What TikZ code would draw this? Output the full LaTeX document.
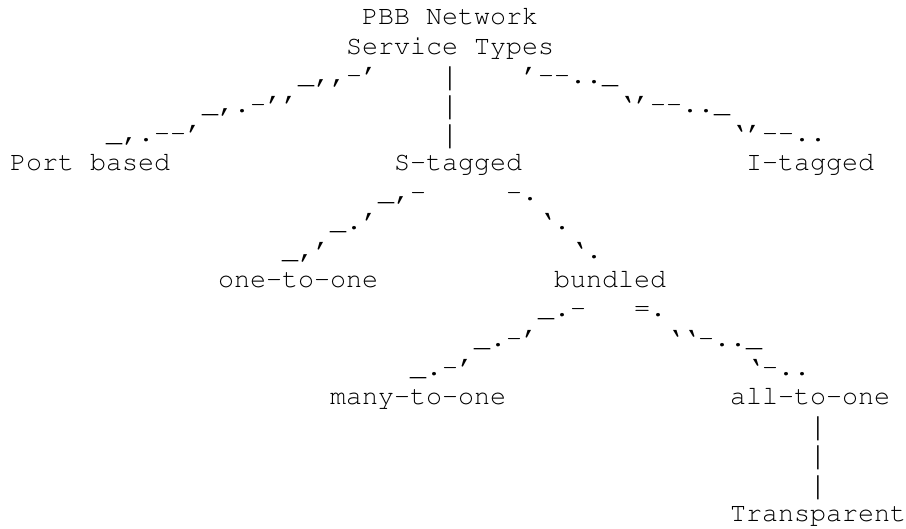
\documentclass[tikz,border=0pt]{standalone}
\usepackage[T1]{fontenc}
\usepackage{graphicx}
\usepackage{fontspec}
\newfontfamily\barfont{Liberation Mono}
\newcommand\vbar{\makebox[16pt]{\raisebox{-2pt}{\scalebox{0.7}[0.97]{\barfont|}}}}
\begin{document}
\begin{tikzpicture}[x=1pt,y=1pt,
  txt/.style={anchor=base west, inner sep=0pt, outer sep=0pt, text=black,
    font=\fontencoding{T1}\fontfamily{pcr}\fontseries{m}\fontshape{n}\fontsize{26.67}{29}\selectfont}]
\useasboundingbox (0,0) rectangle (906,-529);
\newcommand\cx[1]{10+16*#1}
\newcommand\ry[1]{-25-29.2*#1}
% labels
\node[txt] (root1) at ({\cx{22}},{\ry{0}}) {PBB Network};
\node[txt] (root2) at ({\cx{21}},{\ry{1}}) {Service Types};
\node[txt] (port) at ({\cx{0}},{\ry{5}}) {Port based};
\node[txt] (stag) at ({\cx{24}},{\ry{5}}) {S-tagged};
\node[txt] (itag) at ({\cx{46}},{\ry{5}}) {I-tagged};
\node[txt] (one) at ({\cx{13}},{\ry{9}}) {one-to-one};
\node[txt] (bund) at ({\cx{34}},{\ry{9}}) {bundled};
\node[txt] (many) at ({\cx{20}},{\ry{13}}) {many-to-one};
\node[txt] (all) at ({\cx{45}},{\ry{13}}) {all-to-one};
\node[txt] (trans) at ({\cx{45}},{\ry{17}}) {Transparent};
% ascii connectors: root to port based
\node[txt] (rp1) at ({\cx{18}},{\ry{2}}) {\_,{},-'};
\node[txt] (rp2) at ({\cx{12}},{\ry{3}}) {\_,.-'{}'};
\node[txt] (rp3) at ({\cx{6}},{\ry{4}}) {\_,.-{}-'};
% root to S-tagged
\node[txt] (rs1) at ({\cx{27}},{\ry{2}}) {\vbar};
\node[txt] (rs2) at ({\cx{27}},{\ry{3}}) {\vbar};
\node[txt] (rs3) at ({\cx{27}},{\ry{4}}) {\vbar};
% root to I-tagged
\node[txt] (ri1) at ({\cx{32}},{\ry{2}}) {'-{}-.{}.\_};
\node[txt] (ri2) at ({\cx{38}},{\ry{3}}) {`{}'-{}-.{}.\_};
\node[txt] (ri3) at ({\cx{45}},{\ry{4}}) {`{}'-{}-.{}.};
% S-tagged to one-to-one
\node[txt] (so1) at ({\cx{23}},{\ry{6}}) {\_,-};
\node[txt] (so2) at ({\cx{20}},{\ry{7}}) {\_.'};
\node[txt] (so3) at ({\cx{17}},{\ry{8}}) {\_,'};
% S-tagged to bundled
\node[txt] (sb1) at ({\cx{31}},{\ry{6}}) {-.};
\node[txt] (sb2) at ({\cx{33}},{\ry{7}}) {`.};
\node[txt] (sb3) at ({\cx{35}},{\ry{8}}) {`.};
% bundled to many-to-one
\node[txt] (bm1) at ({\cx{33}},{\ry{10}}) {\_.-};
\node[txt] (bm2) at ({\cx{29}},{\ry{11}}) {\_.-'};
\node[txt] (bm3) at ({\cx{25}},{\ry{12}}) {\_.-'};
% bundled to all-to-one
\node[txt] (ba1) at ({\cx{39}},{\ry{10}}) {=.};
\node[txt] (ba2) at ({\cx{41}},{\ry{11}}) {`{}`-.{}.\_};
\node[txt] (ba3) at ({\cx{46}},{\ry{12}}) {`-.{}.};
% all-to-one to Transparent
\node[txt] (at1) at ({\cx{50}},{\ry{14}}) {\vbar};
\node[txt] (at2) at ({\cx{50}},{\ry{15}}) {\vbar};
\node[txt] (at3) at ({\cx{50}},{\ry{16}}) {\vbar};
\end{tikzpicture}
\end{document}
